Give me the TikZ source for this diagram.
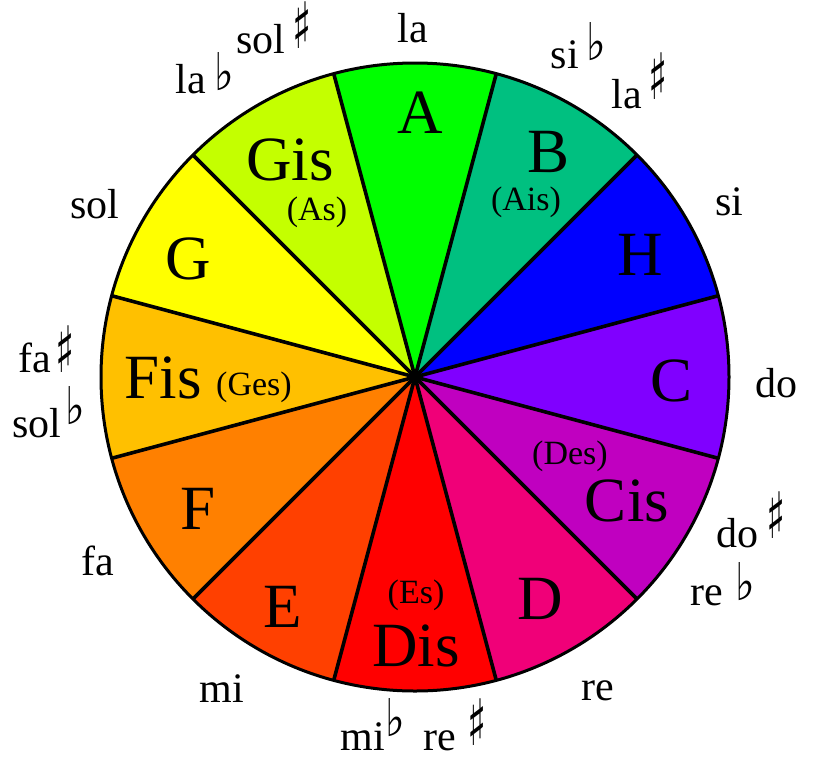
\documentclass[tikz,border=0pt]{standalone}
\usepackage{fontspec}
\setmainfont{Liberation Serif}
\newfontfamily\symfont{DejaVu Sans}
\definecolor{cA}{RGB}{0,255,0}
\definecolor{cB}{RGB}{0,192,128}
\definecolor{cH}{RGB}{0,0,255}
\definecolor{cC}{RGB}{128,0,255}
\definecolor{cCis}{RGB}{192,0,192}
\definecolor{cD}{RGB}{240,0,120}
\definecolor{cDis}{RGB}{255,0,0}
\definecolor{cE}{RGB}{255,64,0}
\definecolor{cF}{RGB}{255,128,0}
\definecolor{cFis}{RGB}{255,192,0}
\definecolor{cG}{RGB}{255,255,0}
\definecolor{cGis}{RGB}{196,255,0}
\begin{document}
\begin{tikzpicture}[x=1pt,y=-1pt,
  big/.style={inner sep=0pt,anchor=base,font=\fontsize{63}{63}\selectfont},
  alt/.style={inner sep=0pt,anchor=base,font=\fontsize{34}{34}\selectfont},
  outer/.style={inner sep=0pt,anchor=base,font=\fontsize{42}{42}\selectfont},
  sharpsym/.style={inner sep=0pt,anchor=center,xscale=0.62,font=\symfont\bfseries\fontsize{64}{64}\selectfont},
  flatsym/.style={inner sep=0pt,anchor=center,xscale=0.8,font=\symfont\fontsize{52}{52}\selectfont}]
\useasboundingbox (0,0) rectangle (814,764);
\fill[white] (0,0) rectangle (814,764);
\coordinate (c) at (415,377);
\foreach \s/\col in {-105/cA,-75/cB,-45/cH,-15/cC,15/cCis,45/cD,75/cDis,105/cE,135/cF,165/cFis,195/cG,225/cGis}
  \fill[\col] (c) -- ++(\s:314) arc[start angle=\s, delta angle=30, radius=314] -- cycle;
\foreach \a in {-105,-75,...,225}
  \draw[line width=3.6pt] (c) -- ++(\a:314);
\draw[line width=3pt] (c) circle[radius=314];
\fill (c) circle[radius=5];
% inner labels
\node[big] (nA) at (420,133) {A};
\node[big] (nB) at (549,172) {B};
\node[alt] (nAis) at (526,210) {(Ais)};
\node[big] (nH) at (640,275) {H};
\node[big] (nC) at (672,401) {C};
\node[alt] (nDes) at (570,464) {(Des)};
\node[big] (nCis) at (627,521) {Cis};
\node[big] (nD) at (540,619) {D};
\node[alt] (nEs) at (416,603) {(Es)};
\node[big] (nDis) at (416,666) {Dis};
\node[big] (nE) at (283,627) {E};
\node[big] (nF) at (198,529) {F};
\node[big] (nFis) at (163,398) {Fis};
\node[alt] (nGes) at (254,395) {(Ges)};
\node[big] (nG) at (188,279) {G};
\node[big] (nGis) at (290,180) {Gis};
\node[alt] (nAs) at (317,220) {(As)};
% outer labels
\node[outer] (la) at (413,42) {la};
\node[outer] (solis) at (261,53) {sol};
\node[sharpsym] (solisS) at (302,25) {♯};
\node[outer] (lab) at (191,93) {la};
\node[flatsym] (labF) at (224,72) {♭};
\node[outer] (sib) at (565,68) {si};
\node[flatsym] (sibF) at (596,42) {♭};
\node[outer] (lais) at (627,108) {la};
\node[sharpsym] (laisS) at (658,76) {♯};
\node[outer] (si) at (729,215) {si};
\node[outer] (do) at (776,397) {do};
\node[outer] (dois) at (737,547) {do};
\node[sharpsym] (doisS) at (776,515) {♯};
\node[outer] (reb) at (707,605) {re};
\node[flatsym] (rebF) at (745,582) {♭};
\node[outer] (re) at (598,700) {re};
\node[outer] (mib) at (363,750) {mi};
\node[flatsym] (mibF) at (395,718) {♭};
\node[outer] (reis) at (440,750) {re};
\node[sharpsym] (reisS) at (477,722) {♯};
\node[outer] (mi) at (222,702) {mi};
\node[outer] (fa) at (98,575) {fa};
\node[outer] (solb) at (37,437) {sol};
\node[flatsym] (solbF) at (75,406) {♭};
\node[outer] (fais) at (35,372) {fa};
\node[sharpsym] (faisS) at (65,349) {♯};
\node[outer] (sol) at (95,218) {sol};
\end{tikzpicture}
\end{document}
